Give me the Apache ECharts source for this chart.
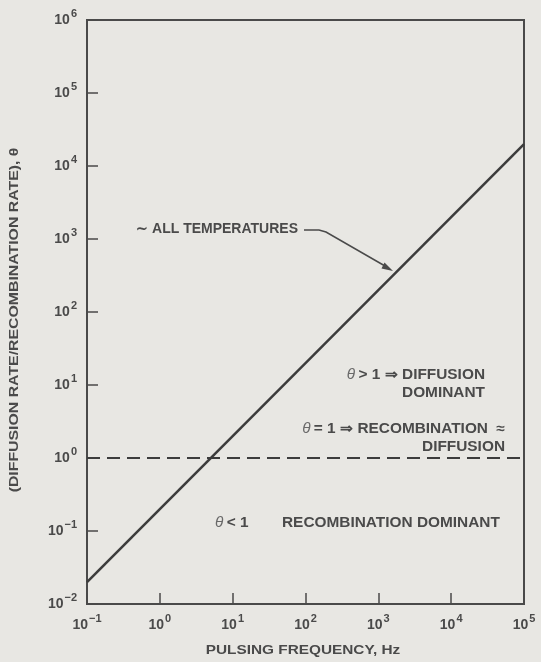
<!DOCTYPE html>
<html>
<head>
<meta charset="utf-8">
<script src="https://cdn.jsdelivr.net/npm/echarts@6/dist/echarts.min.js"></script>
<style>
html,body{margin:0;padding:0;background:#e8e7e3;}
#chart{width:541px;height:662px;}
</style>
</head>
<body>
<div id="chart"></div>
<script>
// ---- data ----
const xExponents = ['−1', '0', '1', '2', '3', '4', '5'];
const yExponents = ['−2', '−1', '0', '1', '2', '3', '4', '5', '6'];
const thetaLineFreq = [0.1, 1e5];
const thetaLineValues = [0.02, 2e4];
const unityLineFreq = [0.1, 1e5];
const unityLineValues = [1, 1];
const xTitle = 'PULSING FREQUENCY, Hz';
const yTitle = '(DIFFUSION RATE/RECOMBINATION RATE), θ';

const ink = '#4a4a4a';
const font = '"Liberation Sans", Arial, sans-serif';

const richLabel = {
  b: { fontSize: 14, fontWeight: 'bold', color: ink, fontFamily: font, lineHeight: 24, height: 24, verticalAlign: 'bottom' },
  s: { fontSize: 11, fontWeight: 'bold', color: ink, fontFamily: font, lineHeight: 11, height: 11, verticalAlign: 'top', padding: [0, 0, 0, 1] }
};

const chart = echarts.init(document.getElementById('chart'), null, { renderer: 'canvas' });

const thetaData = thetaLineFreq.map((f, i) => [f, thetaLineValues[i]]);
const unityData = unityLineFreq.map((f, i) => [f, unityLineValues[i]]);

const annoStyle = { fontSize: 14, fontWeight: 'bold', fontFamily: font, fill: ink };
const thetaRich = {
  t: { fontSize: 14, fontStyle: 'italic', fontWeight: 'normal', fontFamily: font, fill: '#6a6a6a', padding: [0, 3, 0, 0] },
  n: { fontSize: 14, fontWeight: 'bold', fontFamily: font, fill: ink }
};

chart.setOption({
  backgroundColor: '#e8e7e3',
  animation: false,
  grid: { left: 87, right: 17, top: 20, bottom: 58, show: true, borderColor: ink, borderWidth: 2, backgroundColor: 'transparent' },
  xAxis: {
    type: 'log', logBase: 10, min: 0.1, max: 1e5,
    axisLine: { lineStyle: { color: ink, width: 2 } },
    axisTick: { inside: true, length: 11, lineStyle: { color: ink, width: 1.5 } },
    splitLine: { show: false },
    axisLabel: {
      margin: 9,
      formatter: (v, i) => '{b|10}{s|' + xExponents[i] + '}',
      rich: richLabel
    }
  },
  yAxis: {
    type: 'log', logBase: 10, min: 0.01, max: 1e6, splitNumber: 8,
    axisLine: { lineStyle: { color: ink, width: 2 } },
    axisTick: { inside: true, length: 11, lineStyle: { color: ink, width: 1.5 } },
    splitLine: { show: false },
    axisLabel: {
      margin: 10,
      formatter: (v, i) => '{b|10}{s|' + yExponents[i] + '}',
      rich: richLabel
    }
  },
  series: [
    {
      type: 'line', data: thetaData, showSymbol: false, symbol: 'none',
      lineStyle: { color: '#3c3c3c', width: 2.5 }, z: 3
    },
    {
      type: 'line', data: unityData, showSymbol: false, symbol: 'none',
      lineStyle: { color: '#3c3c3c', width: 2, type: [13, 7] }, z: 2
    }
  ],
  graphic: [
    { type: 'text', x: 303, y: 651, scaleX: 1.28, style: { text: xTitle, align: 'center', verticalAlign: 'middle', fontSize: 12, fontWeight: 'bold', fontFamily: font, fill: ink } },
    { type: 'text', x: 15, y: 320, rotation: Math.PI / 2, scaleX: 1.32, style: { text: yTitle, align: 'center', verticalAlign: 'middle', fontSize: 12, fontWeight: 'bold', fontFamily: font, fill: ink } },
    { type: 'text', x: 298, y: 229, style: Object.assign({ text: '∼ ALL TEMPERATURES', align: 'right', verticalAlign: 'middle' }, annoStyle) },
    { type: 'polyline', shape: { points: [[304, 230], [319, 230], [326, 232], [385, 266]] }, style: { stroke: ink, lineWidth: 1.5, fill: null } },
    { type: 'polygon', shape: { points: [[393, 271], [381.5, 268.5], [384.5, 262.5]] }, style: { fill: ink } },
    { type: 'text', x: 485, y: 375, scaleX: 1.1, style: { text: '{t|θ}{n|> 1 ⇒ DIFFUSION}', align: 'right', verticalAlign: 'middle', rich: thetaRich } },
    { type: 'text', x: 485, y: 393, scaleX: 1.1, style: Object.assign({ text: 'DOMINANT', align: 'right', verticalAlign: 'middle' }, annoStyle) },
    { type: 'text', x: 505, y: 429, scaleX: 1.1, style: { text: '{t|θ}{n|= 1 ⇒ RECOMBINATION  ≈}', align: 'right', verticalAlign: 'middle', rich: thetaRich } },
    { type: 'text', x: 505, y: 447, scaleX: 1.1, style: Object.assign({ text: 'DIFFUSION', align: 'right', verticalAlign: 'middle' }, annoStyle) },
    { type: 'text', x: 215, y: 523, scaleX: 1.1, style: { text: '{t|θ}{n|< 1}', align: 'left', verticalAlign: 'middle', rich: thetaRich } },
    { type: 'text', x: 282, y: 523, scaleX: 1.1, style: Object.assign({ text: 'RECOMBINATION DOMINANT', align: 'left', verticalAlign: 'middle' }, annoStyle) }
  ]
});
</script>
</body>
</html>
